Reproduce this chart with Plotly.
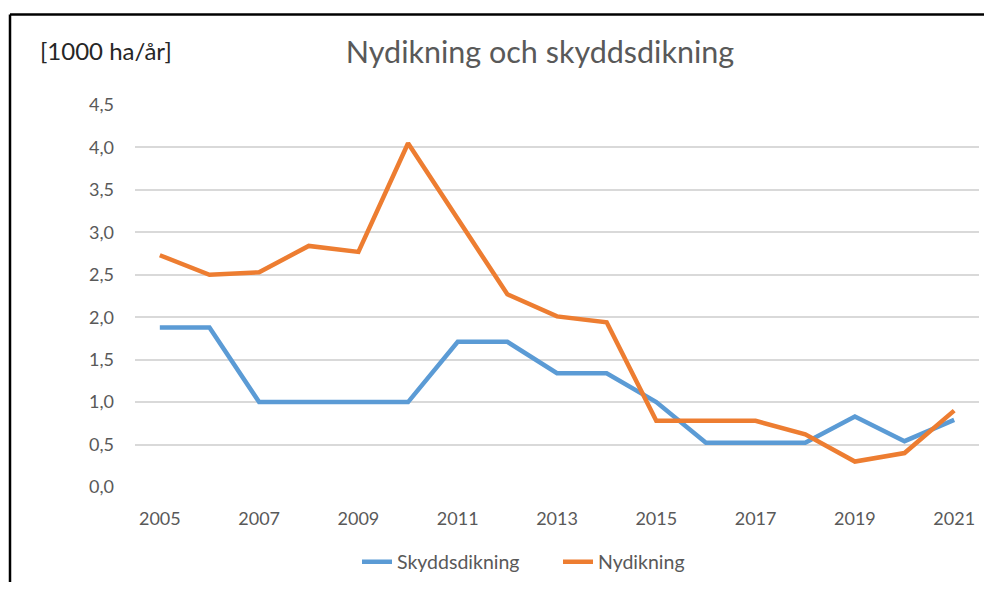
import plotly.graph_objects as go

years = list(range(2005, 2022))
skyddsdikning = [1.88, 1.88, 1.00, 1.00, 1.00, 1.00, 1.71, 1.71, 1.34, 1.34, 1.00, 0.52, 0.52, 0.52, 0.83, 0.54, 0.79]
nydikning = [2.73, 2.50, 2.53, 2.84, 2.77, 4.05, 3.16, 2.27, 2.01, 1.94, 0.78, 0.78, 0.78, 0.62, 0.30, 0.40, 0.90]
y_ticks = [0, 0.5, 1, 1.5, 2, 2.5, 3, 3.5, 4, 4.5]

FONT = "Lato"
GRAY = "#595959"

fig = go.Figure()
fig.add_trace(go.Scatter(x=years, y=skyddsdikning, mode="lines", name="Skyddsdikning",
                         line=dict(color="#5B9BD5", width=4.5)))
fig.add_trace(go.Scatter(x=years, y=nydikning, mode="lines", name="Nydikning",
                         line=dict(color="#ED7D31", width=4.5)))

OFF = 8  # page body margin
W, H = 992 - 2 * OFF, 590 - 2 * OFF
L, T = 135 - OFF, 104.5 - OFF
R = W - (979 - OFF)
B = H - (487 - OFF)
pw = W - L - R
ph = H - T - B

def px(x):
    return (x - OFF - L) / pw

def py(y):
    return (H - B - (y - OFF)) / ph

def cx(x):
    return (x - OFF) / W

def cy(y):
    return 1 - (y - OFF) / H

fig.update_layout(
    width=W, height=H,
    margin=dict(l=L, r=R, t=T, b=B, pad=0, autoexpand=False),
    paper_bgcolor="white", plot_bgcolor="white",
    separators=", ",
    font=dict(family=FONT, color=GRAY, size=18),
    title=dict(text="Nydikning och skyddsdikning", x=cx(540), xref="container", xanchor="center",
               y=cy(52), yref="container", yanchor="middle",
               font=dict(size=30.5, color=GRAY, family=FONT)),
    xaxis=dict(range=[2004.5, 2021.5], tickmode="array", tickvals=years[::2],
               showgrid=False, zeroline=False, showline=False, ticks="",
               tickfont=dict(size=18, color=GRAY), ticklabelstandoff=19),
    yaxis=dict(range=[0, 4.5], tickvals=y_ticks, tickformat=".1f",
               showgrid=True, gridcolor="#d9d9d9", gridwidth=1.5, zeroline=False,
               showline=False, ticks="", tickfont=dict(size=18, color=GRAY),
               ticklabelstandoff=20),
    legend=dict(orientation="h", xref="container", yref="container",
                x=cx(558), xanchor="center", y=cy(562), yanchor="middle",
                font=dict(size=19.5, color=GRAY), entrywidth=156, traceorder="normal"),
    showlegend=True,
)

fig.add_annotation(text="[1000 ha/år]", xref="paper", yref="paper", x=px(38), y=py(50),
                   xanchor="left", yanchor="middle", showarrow=False,
                   font=dict(size=24, color="#262626", family=FONT))

# chart border (extends beyond the visible area at right/bottom)
fig.add_shape(type="line", xref="paper", yref="paper", x0=px(10), x1=px(1000), y0=py(14), y1=py(14),
              line=dict(color="black", width=2.5))
fig.add_shape(type="line", xref="paper", yref="paper", x0=px(10), x1=px(10), y0=py(14), y1=py(600),
              line=dict(color="black", width=2.5))

fig.write_html("out.html")
